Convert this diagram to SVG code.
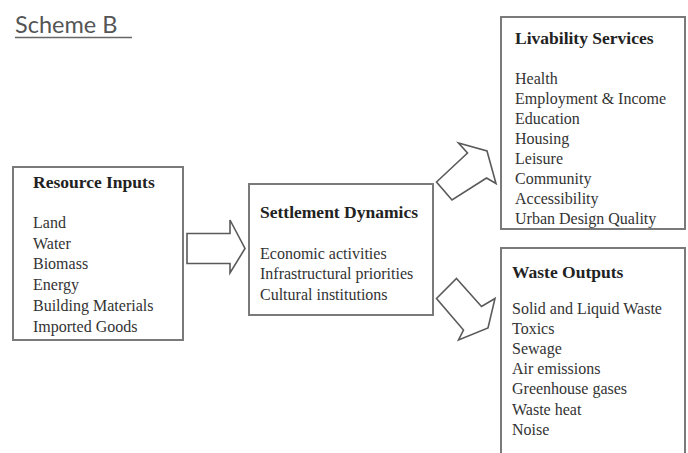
<svg xmlns="http://www.w3.org/2000/svg" width="688" height="453" viewBox="0 0 688 453">
<style>
.box{fill:#fff;stroke:#7a7a7a;stroke-width:2}
.arr{fill:#fff;stroke:#5a5a5a;stroke-width:1.6;stroke-linejoin:miter}
.t{font-family:"Liberation Serif","Times New Roman",serif;font-size:17.5px;font-weight:bold;fill:#222}
.i{font-family:"Liberation Serif","Times New Roman",serif;font-size:16px;fill:#333}
.h{font-family:Lato,"Open Sans",sans-serif;font-size:23.5px;fill:#555}
</style>
<rect width="688" height="453" fill="#fff"/>
<g id="heading">
<text class="h" x="15" y="33">Scheme B</text>
<line x1="15" y1="37.5" x2="132" y2="37.5" stroke="#666" stroke-width="1.6"/>
</g>
<g id="connectors">
<polygon class="arr" points="187,233.5 230,233.5 230,220 245,248.5 230,273 230,263.5 187,263.5"/>
<polygon class="arr" points="436.5,182 467.5,153 458.5,143 487,151 496,183.5 486.5,178 452,200"/>
<polygon class="arr" points="456.5,278.5 481.5,306.5 495,298.5 488,328 458.5,340 463.5,330 436.5,298.5"/>
</g>
<g id="resource-inputs">
<rect class="box" x="13" y="167" width="170" height="173"/>
<text class="t" x="33" y="188">Resource Inputs</text>
<text class="i" x="33" y="228">Land</text>
<text class="i" x="33" y="248.7">Water</text>
<text class="i" x="33" y="269.4">Biomass</text>
<text class="i" x="33" y="290.1">Energy</text>
<text class="i" x="33" y="310.8">Building Materials</text>
<text class="i" x="33" y="331.5">Imported Goods</text>
</g>
<g id="settlement-dynamics">
<rect class="box" x="249" y="184" width="184" height="131"/>
<text class="t" x="260" y="218">Settlement Dynamics</text>
<text class="i" x="260" y="258.5">Economic activities</text>
<text class="i" x="260" y="279">Infrastructural priorities</text>
<text class="i" x="260" y="299.5">Cultural institutions</text>
</g>
<g id="livability-services">
<rect class="box" x="501" y="17" width="184" height="212"/>
<text class="t" x="515" y="44">Livability Services</text>
<text class="i" x="515" y="84">Health</text>
<text class="i" x="515" y="104">Employment &amp; Income</text>
<text class="i" x="515" y="124">Education</text>
<text class="i" x="515" y="144">Housing</text>
<text class="i" x="515" y="164">Leisure</text>
<text class="i" x="515" y="184">Community</text>
<text class="i" x="515" y="204">Accessibility</text>
<text class="i" x="515" y="224">Urban Design Quality</text>
</g>
<g id="waste-outputs">
<rect class="box" x="501" y="248" width="184" height="215"/>
<text class="t" x="512" y="278">Waste Outputs</text>
<text class="i" x="512" y="313.5">Solid and Liquid Waste</text>
<text class="i" x="512" y="333.7">Toxics</text>
<text class="i" x="512" y="353.9">Sewage</text>
<text class="i" x="512" y="374.1">Air emissions</text>
<text class="i" x="512" y="394.3">Greenhouse gases</text>
<text class="i" x="512" y="414.5">Waste heat</text>
<text class="i" x="512" y="434.7">Noise</text>
</g>
</svg>
